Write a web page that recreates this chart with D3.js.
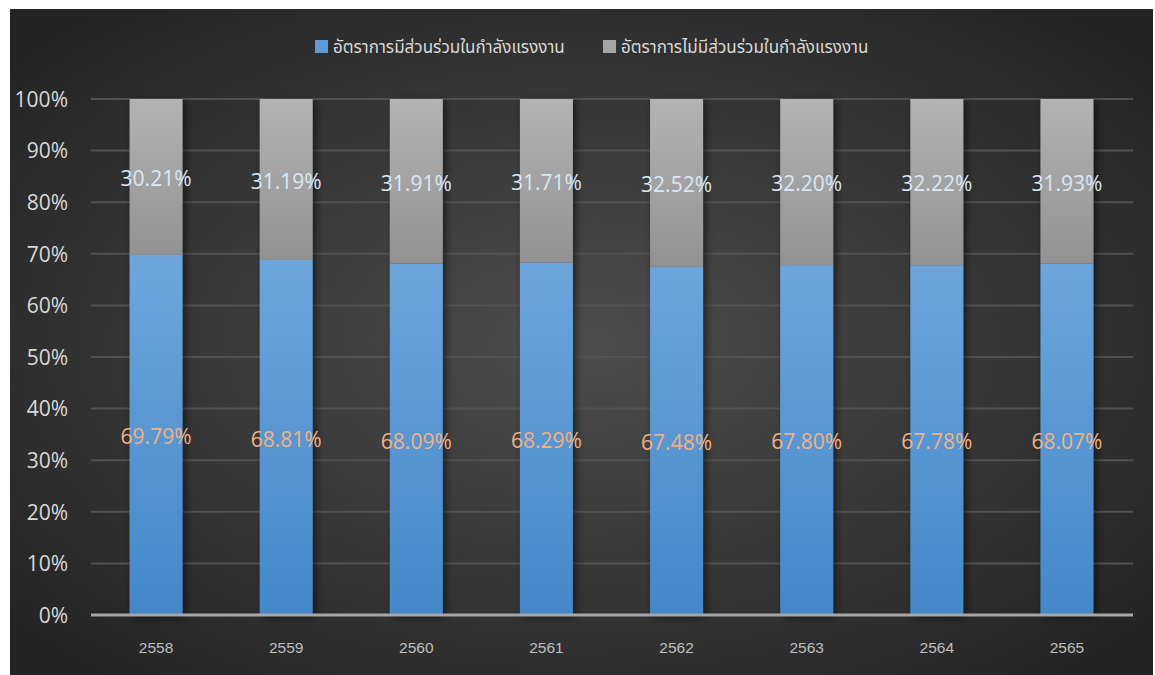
<!DOCTYPE html>
<html><head><meta charset="utf-8">
<script src="https://cdn.jsdelivr.net/npm/d3@7"></script>
<style>
html,body{margin:0;padding:0;background:#fff;}
svg{display:block;}
</style></head>
<body>
<svg id="chart" width="1155" height="675"></svg>
<script>
const years = ["2558","2559","2560","2561","2562","2563","2564","2565"];
const participation = [69.79,68.81,68.09,68.29,67.48,67.80,67.78,68.07];
const nonParticipation = [30.21,31.19,31.91,31.71,32.52,32.20,32.22,31.93];
const seriesNames = ["อัตราการมีส่วนร่วมในกำลังแรงงาน","อัตราการไม่มีส่วนร่วมในกำลังแรงงาน"];
const yTicks = [0,10,20,30,40,50,60,70,80,90,100];

const svg = d3.select("#chart");
const defs = svg.append("defs");

const bg = defs.append("radialGradient").attr("id","bg").attr("cx","50%").attr("cy","50%").attr("r","65%");
bg.append("stop").attr("offset","0%").attr("stop-color","#4d4d4d");
bg.append("stop").attr("offset","100%").attr("stop-color","#242424");

const gBlue = defs.append("linearGradient").attr("id","gblue").attr("gradientUnits","userSpaceOnUse")
  .attr("x1",0).attr("y1",99).attr("x2",0).attr("y2",615);
gBlue.append("stop").attr("offset","0%").attr("stop-color","#7ab0e2");
gBlue.append("stop").attr("offset","30%").attr("stop-color","#6ea6dc");
gBlue.append("stop").attr("offset","100%").attr("stop-color","#4488c9");

const gGray = defs.append("linearGradient").attr("id","ggray").attr("x1",0).attr("y1",0).attr("x2",0).attr("y2",1);
gGray.append("stop").attr("offset","0%").attr("stop-color","#b3b3b3");
gGray.append("stop").attr("offset","100%").attr("stop-color","#929292");

const sh = defs.append("filter").attr("id","shadow").attr("x","-30%").attr("y","-5%").attr("width","170%").attr("height","115%");
sh.append("feGaussianBlur").attr("in","SourceAlpha").attr("stdDeviation",4);
sh.append("feOffset").attr("dx",3).attr("dy",2).attr("result","b");
sh.append("feComponentTransfer").append("feFuncA").attr("type","linear").attr("slope",0.55);
const mg = sh.append("feMerge"); mg.append("feMergeNode"); mg.append("feMergeNode").attr("in","SourceGraphic");

svg.append("rect").attr("x",10).attr("y",9).attr("width",1143).attr("height",666).attr("fill","url(#bg)");

const x = d3.scaleBand().domain(years).range([91,1132]).paddingInner(0.593).paddingOuter(0.2965);
const y = d3.scaleLinear().domain([0,100]).range([615,99]);

// gridlines
svg.append("g").selectAll("line").data(yTicks.filter(d=>d>0)).join("line")
  .attr("x1",91).attr("x2",1133).attr("y1",d=>y(d)).attr("y2",d=>y(d))
  .attr("stroke","#525252").attr("stroke-width",2);

// y axis labels
const yAxis = d3.axisLeft(y).tickValues(yTicks).tickFormat(d=>d+"%").tickSize(0).tickPadding(0);
const ya = svg.append("g").attr("transform","translate(68,0)").call(yAxis);
ya.select(".domain").remove();
ya.selectAll("text").attr("fill","#d9d9d9").style("font-family","'Open Sans', sans-serif").style("font-size","21px").attr("dy","0.35em");

// bars
const bars = svg.append("g").attr("filter","url(#shadow)");
bars.selectAll(".b").data(years).join("rect").attr("class","b")
  .attr("x",d=>x(d)).attr("width",x.bandwidth())
  .attr("y",(d,i)=>y(participation[i])).attr("height",(d,i)=>y(0)-y(participation[i]))
  .attr("fill","url(#gblue)");
bars.selectAll(".g").data(years).join("rect").attr("class","g")
  .attr("x",d=>x(d)).attr("width",x.bandwidth())
  .attr("y",(d,i)=>y(participation[i]+nonParticipation[i])).attr("height",(d,i)=>y(participation[i])-y(participation[i]+nonParticipation[i]))
  .attr("fill","url(#ggray)");

// baseline
svg.append("line").attr("x1",91).attr("x2",1133).attr("y1",y(0)).attr("y2",y(0))
  .attr("stroke","#a6a6a6").attr("stroke-width",3);

// x axis
const xAxis = d3.axisBottom(x).tickSize(0).tickPadding(0);
const xa = svg.append("g").attr("transform","translate(0,648)").call(xAxis);
xa.select(".domain").remove();
xa.selectAll("text").attr("fill","#bfbfbf").style("font-family","'Liberation Sans', Arial, sans-serif").style("font-size","15.5px").attr("dy","0.35em");

// labels
const lab = svg.append("g").style("font-family","'Open Sans', sans-serif").style("font-size","21px").attr("text-anchor","middle");
lab.selectAll(".lb").data(years).join("text").attr("class","lb")
  .attr("x",d=>x(d)+x.bandwidth()/2).attr("y",(d,i)=>y(participation[i]/2)+2).attr("dy","0.35em")
  .attr("fill","#f4b183").text((d,i)=>participation[i].toFixed(2)+"%");
lab.selectAll(".lg").data(years).join("text").attr("class","lg")
  .attr("x",d=>x(d)+x.bandwidth()/2).attr("y",(d,i)=>y(participation[i]+nonParticipation[i]/2)+2).attr("dy","0.35em")
  .attr("fill","#dde8f5").text((d,i)=>nonParticipation[i].toFixed(2)+"%");

// legend
const legend = svg.append("g");
const legX = [315, 603];
const legFill = ["#5b9bd5","#a5a5a5"];
seriesNames.forEach((name,i)=>{
  legend.append("rect").attr("x",legX[i]).attr("y",40).attr("width",13).attr("height",13).attr("fill",legFill[i]);
  legend.append("text").attr("x",legX[i]+18).attr("y",47).attr("dy","0.35em")
    .attr("fill","#d9d9d9").style("font-family","'Noto Sans', 'Noto Sans Thai', 'DejaVu Sans', sans-serif").style("font-size","17px").text(name);
});
</script>
</body></html>
